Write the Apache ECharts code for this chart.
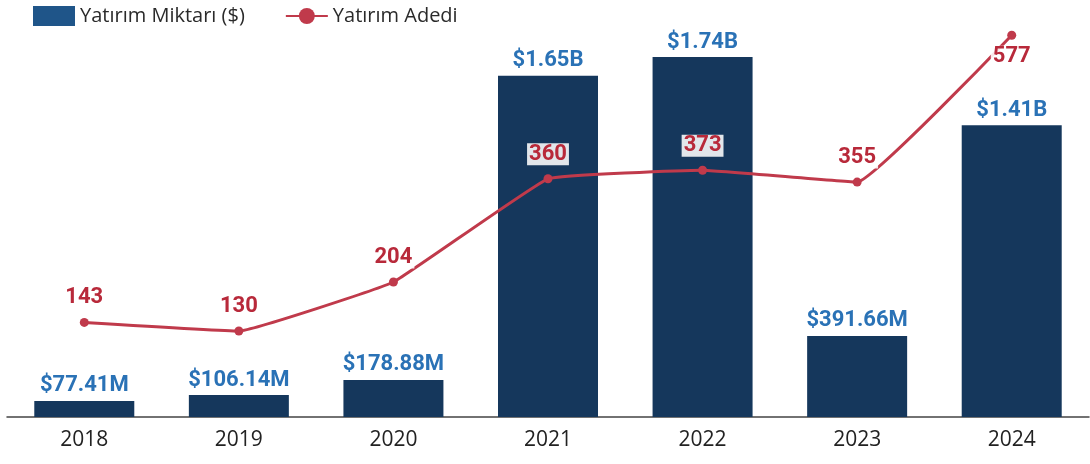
<!DOCTYPE html>
<html lang="tr">
    <head>
        <meta charset="UTF-8">
        <title>Yatırım</title>
        <script src="https://cdn.jsdelivr.net/npm/echarts@6/dist/echarts.min.js"></script>
        <style>
            html, body {
                margin: 0;
                height: 100%;
                background: #fff;
            }
        </style>
    </head>
    <body>
        <div id="main" style="width: 1090px;height: 464px;"></div>
    </body>
</html>
<script>
    // yıllar
    var years = ['2018', '2019', '2020', '2021', '2022', '2023', '2024'];
    // yatırım miktarı (milyon $)
    var amounts = [77.41, 106.14, 178.88, 1650, 1740, 391.66, 1410];
    var amountLabels = ['$77.41M', '$106.14M', '$178.88M', '$1.65B', '$1.74B', '$391.66M', '$1.41B'];
    // yatırım adedi
    var counts = [143, 130, 204, 360, 373, 355, 577];

    var myChart = echarts.init(document.getElementById('main'));

    var lineData = counts.map(function (v, i) {
        var item = {value: v};
        if (i === counts.length - 1) {
            item.label = {position: 'bottom', distance: 6};
        }
        return item;
    });

    var option = {
        animation: false,
        legend: {
            left: 28,
            top: 1,
            itemGap: 40,
            itemWidth: 42,
            itemHeight: 20,
            textStyle: {
                fontFamily: 'Open Sans',
                fontSize: 20,
                color: '#2a2a2a'
            },
            data: [
                {name: 'Yatırım Miktarı ($)', icon: 'rect', itemStyle: {color: '#1f5589'}},
                {name: 'Yatırım Adedi'}
            ]
        },
        grid: {
            left: 7,
            right: 1,
            top: 20,
            bottom: 47
        },
        xAxis: {
            type: 'category',
            data: years,
            axisTick: {show: false},
            axisLine: {lineStyle: {color: '#444', width: 1.5}},
            axisLabel: {
                fontFamily: 'Open Sans',
                fontSize: 21,
                color: '#222',
                margin: 13
            }
        },
        yAxis: [
            {type: 'value', min: 0, max: 1919, show: false, splitLine: {show: false}},
            {type: 'value', min: 0, max: 600, show: false, splitLine: {show: false}}
        ],
        series: [
            {
                name: 'Yatırım Miktarı ($)',
                type: 'bar',
                barWidth: 100,
                data: amounts,
                itemStyle: {color: '#15375c'},
                label: {
                    show: true,
                    position: 'top',
                    distance: 4,
                    fontFamily: 'Roboto',
                    fontWeight: 'bold',
                    fontSize: 22,
                    color: '#2a72b6',
                    formatter: function (p) {
                        return amountLabels[p.dataIndex];
                    }
                }
            },
            {
                name: 'Yatırım Adedi',
                type: 'line',
                yAxisIndex: 1,
                smooth: 0.08,
                data: lineData,
                symbol: 'circle',
                symbolSize: 9,
                lineStyle: {color: '#c03a4b', width: 3},
                itemStyle: {color: '#c03a4b'},
                label: {
                    show: true,
                    position: 'top',
                    distance: 9,
                    fontFamily: 'Roboto',
                    fontWeight: 'bold',
                    fontSize: 22,
                    color: '#b8293a',
                    backgroundColor: 'rgba(255,255,255,0.88)',
                    padding: [0, 2]
                }
            }
        ]
    };

    myChart.setOption(option);
</script>
